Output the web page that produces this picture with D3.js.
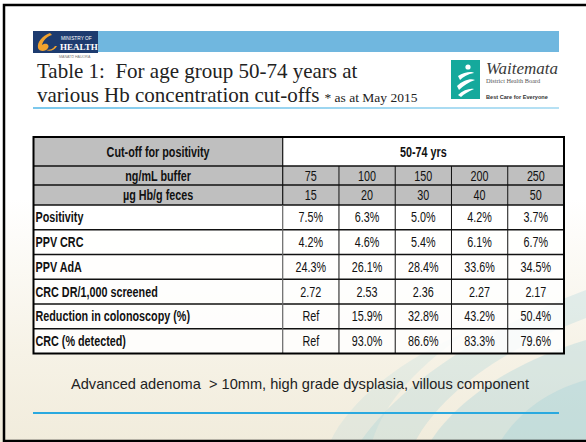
<!DOCTYPE html>
<html>
<head>
<meta charset="utf-8">
<script src="https://cdn.jsdelivr.net/npm/d3@7"></script>
<style>
  body { margin: 0; background: #fff; }
  svg { display: block; }
</style>
</head>
<body>
<svg id="slide"></svg>
<script>
const width = 586;
const height = 442;

// table data
const ageGroup = "50-74 yrs";
const headerLabels = ["Cut-off for positivity", "ng/mL buffer", "µg Hb/g feces"];
const bufferCutoffs = [75, 100, 150, 200, 250];
const fecesCutoffs = [15, 20, 30, 40, 50];
const rowLabels = ["Positivity", "PPV CRC", "PPV AdA", "CRC DR/1,000 screened", "Reduction in colonoscopy (%)", "CRC (% detected)"];
const positivity = [7.5, 6.3, 5.0, 4.2, 3.7];
const ppvCrc = [4.2, 4.6, 5.4, 6.1, 6.7];
const ppvAda = [24.3, 26.1, 28.4, 33.6, 34.5];
const crcDetectionRate = [2.72, 2.53, 2.36, 2.27, 2.17];
const colonoscopyReduction = [null, 15.9, 32.8, 43.2, 50.4];
const crcDetected = [null, 93.0, 86.6, 83.3, 79.6];
const rowFormats = ["pct", "pct", "pct", "num", "pct", "pct"];

const svg = d3.select("#slide").attr("width", width).attr("height", height);
const defs = svg.append("defs");

// does the narrow font exist?
const ctx = document.createElement("canvas").getContext("2d");
function measure(font) { ctx.font = font; return ctx.measureText("Reduction in colonoscopy").width; }
const narrowOK = measure("bold 12px 'Liberation Sans Narrow', monospace") !== measure("bold 12px monospace");
const narrowFont = narrowOK ? "'Liberation Sans Narrow', 'Arial Narrow', sans-serif" : "'Liberation Sans', Arial, sans-serif";

// background
const bg = defs.append("linearGradient").attr("id", "bg")
  .attr("x1", 0).attr("y1", 0).attr("x2", 0).attr("y2", 1);
bg.append("stop").attr("offset", "0%").attr("stop-color", "#ffffff");
bg.append("stop").attr("offset", "45%").attr("stop-color", "#ffffff");
bg.append("stop").attr("offset", "80%").attr("stop-color", "#f6f2e6");
bg.append("stop").attr("offset", "100%").attr("stop-color", "#f1ecdc");
svg.append("rect").attr("width", width).attr("height", height).attr("fill", "url(#bg)");

// faint swirl bottom right
const swirls = [
  {d: "M 360 442 C 400 385, 480 330, 586 290 L 586 318 C 500 350, 440 395, 415 442 Z", o: 0.22},
  {d: "M 430 442 C 460 395, 520 360, 586 340 L 586 442 Z", o: 0.28},
  {d: "M 500 442 C 520 410, 550 390, 586 380 L 586 442 Z", o: 0.25},
  {d: "M 330 442 C 350 400, 400 360, 470 330 C 420 365, 385 400, 372 442 Z", o: 0.15}
];
svg.append("g").selectAll("path").data(swirls).join("path")
  .attr("d", d => d.d).attr("fill", "#8fcad6").attr("opacity", d => d.o);

// frame
svg.append("rect").attr("x", 4).attr("y", 5).attr("width", 620).attr("height", 436)
  .attr("fill", "none").attr("stroke", "#000").attr("stroke-width", 2.5);

// header band with ministry logo
const logo = svg.append("g");
logo.append("rect").attr("x", 33).attr("y", 31).attr("width", 65).attr("height", 22).attr("fill", "#1d3b6f");
logo.append("path")
  .attr("d", "M 50 33 C 42 36, 37 42, 38 48 C 39 52, 46 52, 48 48 C 50 45, 46 42, 42 45 C 43 40, 48 36, 52 35 Z")
  .attr("fill", "#f1a22e");
logo.append("path")
  .attr("d", "M 46 50 C 50 52, 55 50, 57 46 L 55 46 C 53 49, 50 50, 46 50 Z")
  .attr("fill", "#f1a22e");
logo.append("text").attr("x", 61).attr("y", 39.5).attr("font-family", "'Liberation Sans', sans-serif")
  .attr("font-size", 4.8).attr("fill", "#fff").text("MINISTRY OF");
logo.append("text").attr("x", 60).attr("y", 49.5).attr("font-family", "'Liberation Serif', serif")
  .attr("font-weight", "bold").attr("font-size", 9).attr("fill", "#fff").text("HEALTH");
logo.append("text").attr("x", 59).attr("y", 58).attr("font-family", "'Liberation Sans', sans-serif")
  .attr("font-size", 3.6).attr("fill", "#777").text("MANATŪ HAUORA");
svg.append("rect").attr("x", 98).attr("y", 31).attr("width", 461).attr("height", 21).attr("fill", "#70b7df");

// title
const title = svg.append("text").attr("font-family", "'Liberation Serif', 'Times New Roman', serif").attr("fill", "#222");
title.append("tspan").attr("x", 37).attr("y", 78).attr("font-size", 21).style("white-space", "pre")
  .text("Table 1:  For age group 50-74 years at");
title.append("tspan").attr("x", 37).attr("y", 102).attr("font-size", 21).text("various Hb concentration cut-offs");
title.append("tspan").attr("dx", 5).attr("font-size", 13.5).text("* as at May 2015");

const ul = defs.append("linearGradient").attr("id", "ul");
ul.append("stop").attr("offset", "0%").attr("stop-color", "#7cc8ec");
ul.append("stop").attr("offset", "100%").attr("stop-color", "#b7e1f4");
svg.append("rect").attr("x", 33).attr("y", 107).attr("width", 526).attr("height", 2).attr("fill", "url(#ul)");

// Waitemata logo
const wdhb = svg.append("g");
wdhb.append("rect").attr("x", 451).attr("y", 60).attr("width", 29).attr("height", 39).attr("fill", "#15a99c");
wdhb.append("circle").attr("cx", 468).attr("cy", 67).attr("r", 2.6).attr("fill", "#fff");
wdhb.append("path").attr("d", "M 458 76 C 464 72, 472 71, 474 73 C 468 74, 463 77, 460 80 Z").attr("fill", "#fff");
wdhb.append("path").attr("d", "M 457 86 C 463 80, 471 78, 475 80 C 469 82, 463 86, 459 90 Z").attr("fill", "#fff");
wdhb.append("path").attr("d", "M 458 95 C 463 90, 470 88, 474 89 C 469 91, 464 94, 461 97 Z").attr("fill", "#fff");
wdhb.append("text").attr("x", 486).attr("y", 74).attr("font-family", "'Liberation Serif', serif")
  .attr("font-style", "italic").attr("font-size", 17).attr("fill", "#3a3a3a").text("Waitemata");
wdhb.append("text").attr("x", 486).attr("y", 83).attr("font-family", "'Liberation Serif', serif")
  .attr("font-size", 6.3).attr("fill", "#555").text("District Health Board");
wdhb.append("text").attr("x", 486).attr("y", 99).attr("font-family", "'Liberation Sans', sans-serif")
  .attr("font-weight", "bold").attr("font-size", 5.6).attr("fill", "#333").text("Best Care for Everyone");

// table
const tableLeft = 33.5, labelRight = 282.7, tableRight = 564;
const headerTops = [137, 166, 185, 205];
const dataBottom = 353.5;

const x = d3.scaleBand().domain(d3.range(bufferCutoffs.length)).range([labelRight, tableRight]);
const y = d3.scaleBand().domain(rowLabels).range([headerTops[3], dataBottom]);

const rows = [positivity, ppvCrc, ppvAda, crcDetectionRate, colonoscopyReduction, crcDetected];
function fmt(v, kind) {
  if (v == null) return "Ref";
  return kind === "pct" ? v.toFixed(1) + "%" : v.toFixed(2);
}

const table = svg.append("g");
const gray = "#bfbfbf";

// cell fills
table.append("rect").attr("x", tableLeft).attr("y", headerTops[0])
  .attr("width", labelRight - tableLeft).attr("height", headerTops[3] - headerTops[0]).attr("fill", gray);
table.append("rect").attr("x", labelRight).attr("y", headerTops[0])
  .attr("width", tableRight - labelRight).attr("height", headerTops[1] - headerTops[0]).attr("fill", "#fff");
table.append("rect").attr("x", labelRight).attr("y", headerTops[1])
  .attr("width", tableRight - labelRight).attr("height", headerTops[3] - headerTops[1]).attr("fill", gray);
table.append("rect").attr("x", tableLeft).attr("y", headerTops[3])
  .attr("width", tableRight - tableLeft).attr("height", dataBottom - headerTops[3])
  .attr("fill", "#fff").attr("opacity", 0.82);

// grid lines
const hLines = headerTops.slice(1).concat(rowLabels.slice(1).map(r => y(r)));
table.selectAll("line.h").data(hLines).join("line").attr("class", "h")
  .attr("x1", tableLeft).attr("x2", tableRight).attr("y1", d => d).attr("y2", d => d)
  .attr("stroke", "#111").attr("stroke-width", 1.3);
table.selectAll("line.v").data(d3.range(1, bufferCutoffs.length)).join("line").attr("class", "v")
  .attr("x1", d => x(d)).attr("x2", d => x(d)).attr("y1", headerTops[1]).attr("y2", dataBottom)
  .attr("stroke", "#111").attr("stroke-width", 1);
table.append("line").attr("x1", labelRight).attr("x2", labelRight)
  .attr("y1", headerTops[0]).attr("y2", headerTops[3]).attr("stroke", "#111").attr("stroke-width", 1.2);
table.append("line").attr("x1", labelRight).attr("x2", labelRight)
  .attr("y1", headerTops[3]).attr("y2", dataBottom).attr("stroke", "#666").attr("stroke-width", 1.2);
table.append("rect").attr("x", tableLeft).attr("y", headerTops[0])
  .attr("width", tableRight - tableLeft).attr("height", dataBottom - headerTops[0])
  .attr("fill", "none").attr("stroke", "#000").attr("stroke-width", 2);

// texts
const fontSize = 14;
const baseShift = 5;
const texts = table.append("g").attr("font-family", narrowFont).attr("font-size", fontSize).attr("fill", "#111");
const labelMid = (tableLeft + labelRight) / 2;
headerLabels.forEach((t, i) => {
  texts.append("text").attr("x", labelMid).attr("y", (headerTops[i] + headerTops[i + 1]) / 2 + baseShift)
    .attr("text-anchor", "middle").attr("font-weight", "bold").text(t);
});
texts.append("text").attr("x", (labelRight + tableRight) / 2).attr("y", (headerTops[0] + headerTops[1]) / 2 + baseShift)
  .attr("text-anchor", "middle").attr("font-weight", "bold").text(ageGroup);
[bufferCutoffs, fecesCutoffs].forEach((vals, r) => {
  texts.selectAll(null).data(vals).join("text")
    .attr("x", (d, i) => x(i) + x.bandwidth() / 2)
    .attr("y", (headerTops[r + 1] + headerTops[r + 2]) / 2 + baseShift)
    .attr("text-anchor", "middle").text(d => d);
});
texts.selectAll(null).data(rowLabels).join("text")
  .attr("x", tableLeft + 2).attr("y", d => y(d) + y.bandwidth() / 2 + baseShift)
  .attr("font-weight", "bold").text(d => d);
rows.forEach((vals, r) => {
  texts.selectAll(null).data(vals).join("text")
    .attr("x", (d, i) => x(i) + x.bandwidth() / 2)
    .attr("y", y(rowLabels[r]) + y.bandwidth() / 2 + baseShift)
    .attr("text-anchor", "middle").text(d => fmt(d, rowFormats[r]));
});
const squeeze = narrowOK ? 0.94 : 0.77;
texts.selectAll("text").each(function () {
  const w = this.getComputedTextLength();
  d3.select(this).attr("textLength", w * squeeze).attr("lengthAdjust", "spacingAndGlyphs");
});

// footnote
svg.append("text").attr("x", 300).attr("y", 389).attr("text-anchor", "middle")
  .attr("font-family", "'Liberation Sans', Arial, sans-serif").attr("font-size", 14.6).attr("fill", "#222")
  .style("white-space", "pre")
  .text("Advanced adenoma  > 10mm, high grade dysplasia, villous component");
svg.append("rect").attr("x", 33).attr("y", 412).attr("width", 526).attr("height", 2).attr("fill", "#2aa9df");
</script>
</body>
</html>
